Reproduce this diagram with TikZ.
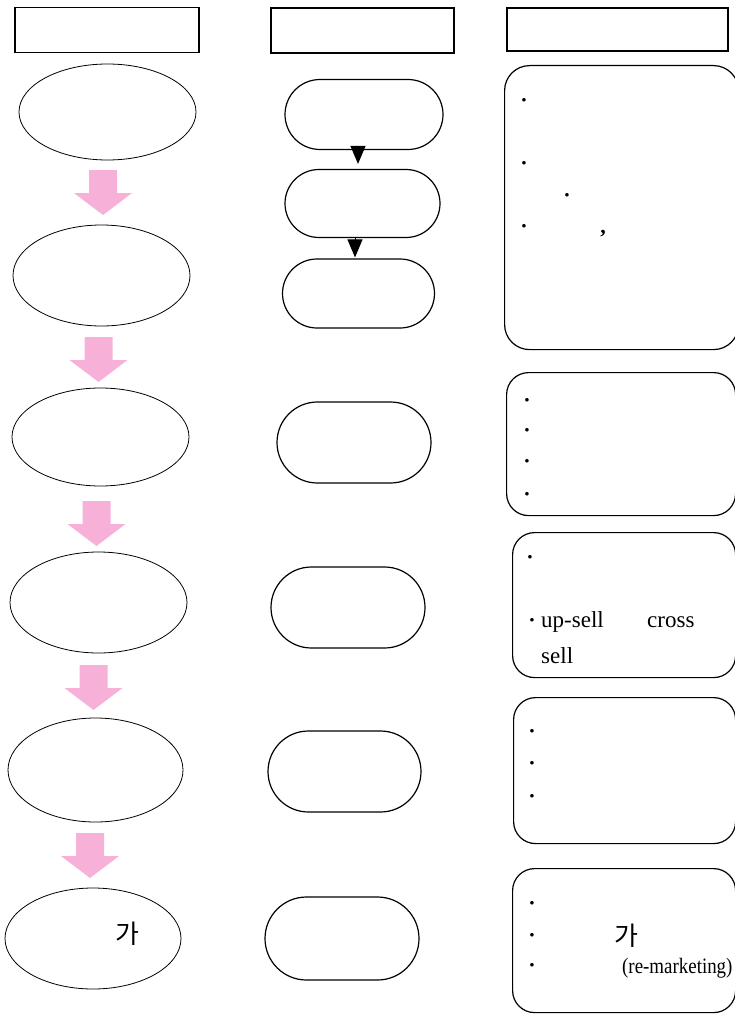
\documentclass[tikz,border=0pt]{standalone}
\usepackage{fontspec}
\setmainfont{Liberation Serif}
\newfontfamily\krfont{Noto Sans CJK KR}
\usepackage{xcolor}
\usetikzlibrary{positioning, shapes.geometric, shapes.misc, arrows.meta, calc}
\definecolor{flowpink}{HTML}{F7B0D8}

\begin{document}
\begin{tikzpicture}[x=1pt, y=-1pt,
  hdr/.style={draw, line width=1.4pt, minimum width=#1, minimum height=45pt, inner sep=0pt},
  oval/.style={draw, line width=0.8pt, ellipse, minimum width=177pt, minimum height=#1, inner sep=0pt},
  pill/.style={draw, line width=1.2pt, rounded rectangle, minimum width=#1, inner sep=0pt},
  note/.style={draw, line width=1.2pt, rounded corners=22pt, anchor=north west, inner sep=0pt},
  bul/.style={anchor=base, inner sep=0pt, font=\bfseries\fontsize{22}{24}\selectfont},
  txt/.style={anchor=base west, inner sep=0pt, font=\fontsize{23}{26}\selectfont},
  kr/.style={inner sep=0pt, font=\krfont\fontsize{26}{28}\selectfont}]
\useasboundingbox (0,0) rectangle (735,1014);
\clip (0,0) rectangle (735,1014);

% headings
\node[hdr=184pt] (h1) at (107,30) {};
\node[hdr=183pt] (h2) at (362.5,30.5) {};
\node[hdr=221pt, minimum height=43pt] (h3) at (617.5,29.5) {};

% left column
\node[oval=96pt] (e1) at (107.5,112) {};
\node[oval=101pt] (e2) at (101.5,275.5) {};
\node[oval=98pt] (e3) at (100.5,437) {};
\node[oval=101pt] (e4) at (98.5,602.5) {};
\node[oval=104pt, minimum width=175pt] (e5) at (95.5,770) {};
\node[oval=101pt, minimum width=176pt] (e6) at (93,938.5) {};
\node[kr] (e6t) at (127.5,933.5) {가};

\foreach \x/\y in {103/170, 98.5/337, 96.5/501, 93.5/665, 90/833}
  \fill[flowpink] (\x-14,\y) -- (\x+14,\y) -- (\x+14,\y+23) -- (\x+29,\y+23)
    -- (\x,\y+45) -- (\x-29,\y+23) -- (\x-14,\y+23) -- cycle;

% middle column
\node[pill=158pt, minimum height=70pt] (m1) at (364,114.5) {};
\node[pill=155pt, minimum height=68pt] (m2) at (362.5,203.5) {};
\node[pill=152pt, minimum height=69pt] (m3) at (358.5,293.5) {};
\node[pill=154pt, minimum height=81pt] (m4) at (354,442.5) {};
\node[pill=154pt, minimum height=81pt] (m5) at (348,607.5) {};
\node[pill=153pt, minimum height=81pt] (m6) at (344.5,771.5) {};
\node[pill=154pt, minimum height=83pt] (m7) at (342,938.5) {};

\draw[line width=1pt, -{Triangle[length=18pt, width=15pt]}] ([xshift=-6pt]m1.south) -- ([xshift=-4.5pt, yshift=5pt]m2.north);
\draw[line width=1pt, -{Triangle[length=18pt, width=15pt]}] ([xshift=-7.5pt]m2.south) -- ([xshift=-3.5pt, yshift=1pt]m3.north);

% right column
\node[note, rounded corners=25pt, minimum width=234pt, minimum height=284pt] (r1) at (504,65) {};
\node[bul] (r1a) at (524,108) {·};
\node[bul] (r1b) at (524,170) {·};
\node[bul] (r1c) at (567,202) {·};
\node[bul] (r1d) at (524,233) {·};
\node[bul] (r1e) at (603,233) {,};

\node[note, minimum width=229pt, minimum height=143pt] (r2) at (506,372) {};
\node[bul] (r2a) at (527,407) {·};
\node[bul] (r2b) at (527,437) {·};
\node[bul] (r2c) at (527,468) {·};
\node[bul] (r2d) at (527,501) {·};

\node[note, minimum width=223pt, minimum height=145pt] (r3) at (512,532) {};
\node[bul] (r3a) at (530,564) {·};
\node[bul] (r3b) at (532,627) {·};
\node[txt] (r3c) at (541,627) {up-sell};
\node[txt] (r3d) at (647,627) {cross};
\node[txt] (r3e) at (541,663) {sell};

\node[note, minimum width=222pt, minimum height=146pt] (r4) at (513,697) {};
\node[bul] (r4a) at (532,738) {·};
\node[bul] (r4b) at (532,770) {·};
\node[bul] (r4c) at (532,803) {·};

\node[note, minimum width=223pt, minimum height=144pt] (r5) at (512,868) {};
\node[bul] (r5a) at (532,910) {·};
\node[bul] (r5b) at (532,942) {·};
\node[bul] (r5c) at (532,972) {·};
\node[kr] (r5d) at (626.5,936) {가};
\node[txt, font=\fontsize{22}{24}\selectfont, xscale=0.86, transform shape] (r5e) at (622,973) {(re-marketing)};
\end{tikzpicture}
\end{document}
